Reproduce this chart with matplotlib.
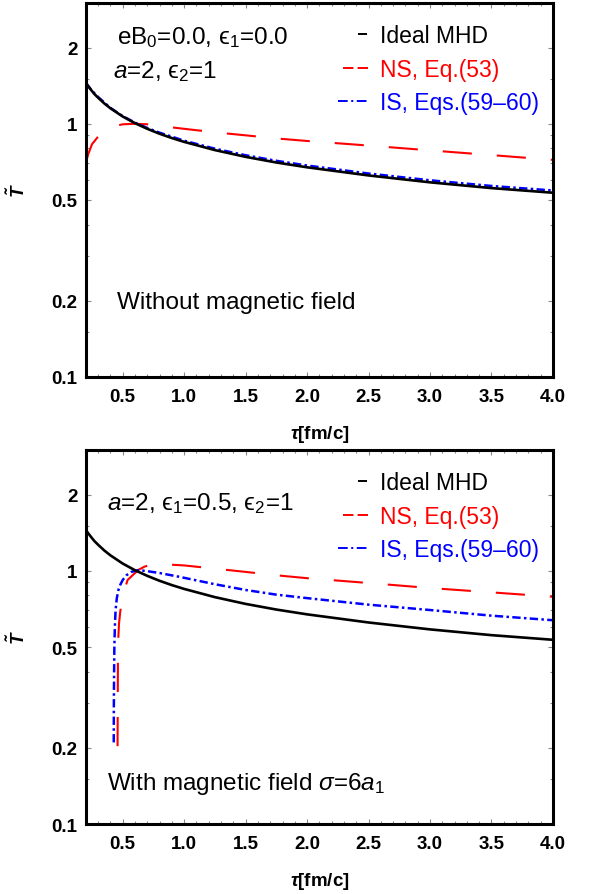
import matplotlib
matplotlib.use("Agg")
import matplotlib.pyplot as plt
from matplotlib.lines import Line2D
from matplotlib.ticker import FixedLocator, NullFormatter

plt.rcParams['font.family'] = ['Liberation Sans', 'DejaVu Sans']
plt.rcParams['mathtext.fontset'] = 'custom'
plt.rcParams['mathtext.rm'] = 'Liberation Sans'
plt.rcParams['mathtext.it'] = 'Liberation Sans:italic'
plt.rcParams['mathtext.bf'] = 'Liberation Sans:italic:bold'
plt.rcParams['mathtext.fallback'] = 'stixsans'
plt.rcParams['lines.scale_dashes'] = False

# ---------------- data ----------------
tau_ideal = [0.2, 0.22, 0.25, 0.27, 0.3, 0.35, 0.4, 0.5, 0.6, 0.7, 0.8, 0.9, 1.0,
             1.25, 1.5, 1.75, 2.0, 2.5, 3.0, 3.5, 4.0]
T_ideal = [1.45, 1.405, 1.346, 1.31, 1.267, 1.203, 1.151, 1.068, 1.005, 0.955,
           0.913, 0.878, 0.848, 0.787, 0.740, 0.703, 0.673, 0.625, 0.587, 0.557, 0.534]

# top panel (no magnetic field)
tau_ns_top = [0.2, 0.22, 0.25, 0.3, 0.35, 0.4, 0.5, 0.6, 0.7, 0.8, 1.0, 1.25, 1.5,
              1.75, 2.0, 2.5, 3.0, 3.5, 4.0]
T_ns_top = [0.70, 0.76, 0.83, 0.89, 0.94, 0.97, 0.995, 1.0, 0.995, 0.98, 0.955,
            0.925, 0.90, 0.875, 0.855, 0.82, 0.785, 0.752, 0.72]

tau_is_top = [0.2, 0.25, 0.3, 0.4, 0.5, 0.6, 0.7, 0.8, 1.0, 1.25, 1.5, 1.75, 2.0,
              2.5, 3.0, 3.5, 4.0]
T_is_top = [1.45, 1.35, 1.275, 1.155, 1.072, 1.01, 0.962, 0.922, 0.857, 0.797,
            0.751, 0.714, 0.684, 0.636, 0.598, 0.568, 0.545]

# bottom panel (with magnetic field)
tau_ns_bot = [0.458, 0.459, 0.46, 0.461, 0.463, 0.47, 0.48, 0.49, 0.51, 0.54, 0.58,
              0.63, 0.68, 0.74, 0.85, 1.0, 1.25, 1.5, 1.75, 2.0, 2.5, 3.0, 3.5, 4.0]
T_ns_bot = [0.203, 0.26, 0.34, 0.44, 0.53, 0.62, 0.69, 0.74, 0.83, 0.92, 0.96,
            1.01, 1.04, 1.058, 1.06, 1.05, 1.02, 0.99, 0.96, 0.935, 0.895, 0.855,
            0.822, 0.79]

tau_is_bot = [0.427, 0.428, 0.43, 0.432, 0.436, 0.442, 0.452, 0.465, 0.48, 0.5,
              0.53, 0.57, 0.62, 0.68, 0.8, 0.96, 1.25, 1.5, 1.75, 2.0, 2.5, 3.0,
              3.5, 4.0]
T_is_bot = [0.21, 0.3, 0.4, 0.5, 0.6, 0.7, 0.78, 0.84, 0.88, 0.92, 0.96, 0.99,
            1.005, 1.0, 0.98, 0.947, 0.885, 0.84, 0.805, 0.78, 0.735, 0.70,
            0.665, 0.638]

labels = ["Ideal MHD", "NS, Eq.(53)", "IS, Eqs.(59\u201360)"]
colors = ["black", "#ff0000", "#0000ff"]
yticks = [0.1, 0.2, 0.5, 1, 2]
yticklabels = ["0.1", "0.2", "0.5", "1", "2"]
yminor = [0.15, 0.3, 0.4, 0.6, 0.7, 0.8, 0.9, 1.5, 3]
xticks = [0.5, 1.0, 1.5, 2.0, 2.5, 3.0, 3.5, 4.0]
xminor = [round(0.2 + 0.1 * i, 1) for i in range(39)]

ns_dash = (0, (21, 18))
is_dash = (0, (6, 2.4, 1.8, 2.4))

fig = plt.figure(figsize=(5.92, 8.95), dpi=100)
ax1 = fig.add_axes([0.145, 0.5777, 0.789, 0.4179])
ax2 = fig.add_axes([0.145, 0.0782, 0.789, 0.4179])


def style(ax):
    ax.set_yscale('log')
    ax.set_xlim(0.2, 4.0)
    ax.set_ylim(0.1, 3.0)
    ax.set_yticks(yticks)
    ax.set_yticklabels(yticklabels)
    ax.yaxis.set_minor_locator(FixedLocator(yminor))
    ax.yaxis.set_minor_formatter(NullFormatter())
    ax.set_xticks(xticks)
    ax.set_xticklabels(["%.1f" % v for v in xticks])
    ax.xaxis.set_minor_locator(FixedLocator(xminor))
    ax.tick_params(which='both', direction='in', top=True, right=True,
                   color='#888888', width=0.8)
    ax.tick_params(which='major', length=3.5, labelsize=13.5, pad=8)
    ax.tick_params(axis='y', which='major', pad=6)
    ax.tick_params(which='minor', length=2)
    for lab in ax.get_xticklabels() + ax.get_yticklabels():
        lab.set_fontweight('bold')
    for sp in ax.spines.values():
        sp.set_linewidth(2.2)
        sp.set_color('black')
    ax.set_xlabel(r"$\mathbf{\tau}$[fm/c]", fontsize=13.5, fontweight='bold', labelpad=13)
    ax.set_ylabel(r"$\mathbf{\tilde{T}}$", fontsize=13.5, labelpad=16)

    handles = [
        Line2D([], [], color=colors[0], lw=1.4, linestyle=(0, (0.001, 14.4, 6.5, 100))),
        Line2D([], [], color=colors[1], lw=1.4, linestyle=(0, (0.001, 3.6, 7.5, 3, 7.5, 100))),
        Line2D([], [], color=colors[2], lw=1.4, linestyle=(0, (7, 2.5, 1.5, 2.5, 7, 100))),
    ]
    leg = ax.legend(handles, labels, loc='upper right', bbox_to_anchor=(1.0, 0.98),
                    frameon=False, fontsize=16.5, handlelength=1.5, handletextpad=0.33,
                    labelspacing=0.46, borderaxespad=0.2)
    for t, c in zip(leg.get_texts(), colors):
        t.set_color(c)


# top panel
ax1.plot(tau_ideal, T_ideal, color=colors[0], lw=1.9, zorder=3)
ax1.plot(tau_ns_top, T_ns_top, color=colors[1], lw=1.5, linestyle=ns_dash, zorder=2)
ax1.plot(tau_is_top, T_is_top, color=colors[2], lw=1.8, linestyle=is_dash, zorder=2)
style(ax1)
ax1.text(0.066, 0.91, "eB$_0$=0.0, \u03f5$_1$=0.0", transform=ax1.transAxes,
         fontsize=17.5, va='center', ha='left')
ax1.text(0.058, 0.82, "$a$=2, \u03f5$_2$=1", transform=ax1.transAxes,
         fontsize=17.5, va='center', ha='left')
ax1.text(0.066, 0.20, "Without magnetic field", transform=ax1.transAxes,
         fontsize=17.5, va='center', ha='left')

# bottom panel
ax2.plot(tau_ideal, T_ideal, color=colors[0], lw=1.9, zorder=3)
ax2.plot(tau_ns_bot, T_ns_bot, color=colors[1], lw=1.5, linestyle=ns_dash, zorder=2)
ax2.plot(tau_is_bot, T_is_bot, color=colors[2], lw=1.8, linestyle=is_dash, zorder=2)
style(ax2)
ax2.text(0.045, 0.86, "$a$=2, \u03f5$_1$=0.5, \u03f5$_2$=1", transform=ax2.transAxes,
         fontsize=17.5, va='center', ha='left')
ax2.text(0.045, 0.11, r"With magnetic field $\sigma$=6$a_1$", transform=ax2.transAxes,
         fontsize=17.5, va='center', ha='left')

fig.savefig("out.png", dpi=100)
